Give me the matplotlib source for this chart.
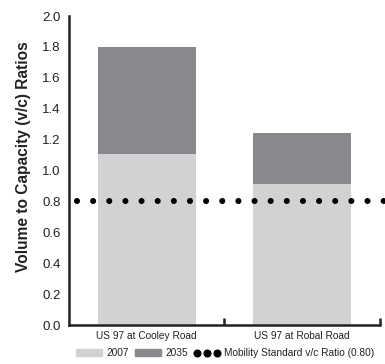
import numpy as np
import matplotlib.pyplot as plt
from matplotlib.patches import Patch
from matplotlib.lines import Line2D

locations = ['US 97 at Cooley Road', 'US 97 at Robal Road']
vc_2007 = [1.11, 0.91]
vc_2035 = [1.80, 1.24]
standard = 0.80

light = '#d1d2d4'
dark = '#88898c'

plt.rcParams['font.family'] = ['Liberation Sans', 'DejaVu Sans']

fig = plt.figure(figsize=(3.85, 3.64), dpi=100)
ax = fig.add_axes([0.179, 0.107, 0.808, 0.849])

x = np.arange(len(locations))
ax.bar(x, vc_2035, width=0.63, color=dark, zorder=1)
ax.bar(x, vc_2007, width=0.63, color=light, zorder=2)

# dotted standard line, runs past the right edge
ax.plot([-0.45, 1.56], [standard, standard], color='black', lw=4.4,
        linestyle=(0, (0.001, 2.64)), dash_capstyle='round', clip_on=False, zorder=3)

ax.set_xlim(-0.5, 1.5)
ax.set_ylim(0, 2.0)
ax.set_yticks(np.arange(0, 2.01, 0.2))
ax.set_yticklabels(['%.1f' % v for v in np.arange(0, 2.01, 0.2)], fontsize=9.5, color='#222222')
ax.tick_params(axis='y', length=0, pad=6)
ax.set_xticks(x)
ax.set_xticklabels(locations, fontsize=7.3, color='#222222')
ax.tick_params(axis='x', length=0, pad=4)
ax.set_xticks([0.5, 1.5], minor=True)
ax.tick_params(axis='x', which='minor', direction='in', length=5, width=1.8, color='#222222')

for s in ['top', 'right']:
    ax.spines[s].set_visible(False)
for s in ['left', 'bottom']:
    ax.spines[s].set_linewidth(1.8)
    ax.spines[s].set_color('#222222')

ax.set_ylabel('Volume to Capacity (v/c) Ratios', fontweight='bold', fontsize=11.2,
              color='#222222')
ax.yaxis.set_label_coords(-0.122, 0.545)

handles = [Patch(color=light), Patch(color=dark),
           Line2D([], [], linestyle='none', marker='o', markersize=4.8, color='black')]
labels = ['2007', '2035', 'Mobility Standard v/c Ratio (0.80)']
fig.legend(handles, labels, loc='center', bbox_to_anchor=(0.585, 0.03), ncol=3,
           frameon=False, fontsize=7.3, numpoints=3, handlelength=2.6, handleheight=0.7,
           handletextpad=0.4, columnspacing=0.6, labelcolor='#222222')

fig.savefig('out.png', dpi=100)
